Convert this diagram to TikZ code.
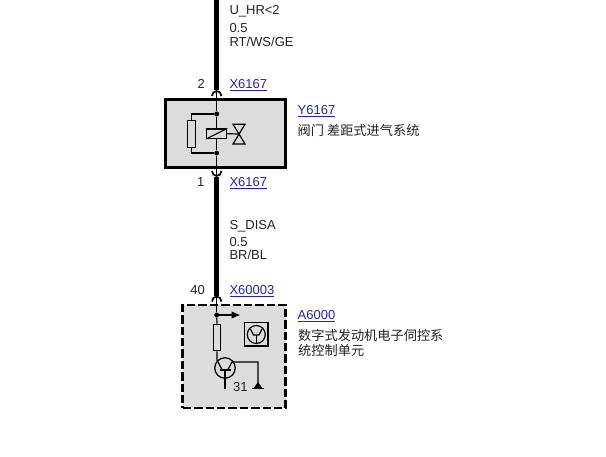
\documentclass[tikz,border=0pt]{standalone}
\usepackage{fontspec}
\setmainfont{Liberation Sans}
\newfontfamily\cjk{Noto Sans CJK SC}
\usetikzlibrary{arrows.meta}
\usetikzlibrary{positioning}
\definecolor{boxgray}{HTML}{DCDCDC}
\definecolor{linkblue}{HTML}{2222BB}
\definecolor{txtgray}{HTML}{222222}
\tikzset{
  lbl/.style={inner sep=0pt,anchor=base west,text=txtgray,font=\fontsize{13}{15}\selectfont},
  pin/.style={inner sep=0pt,anchor=base east,text=txtgray,font=\fontsize{13}{15}\selectfont},
  lnk/.style={inner sep=0pt,anchor=base west,text=linkblue,font=\fontsize{13}{15}\selectfont},
  cn/.style={inner sep=0pt,anchor=base west,text=txtgray,font=\cjk\fontsize{13.2}{15}\selectfont},
  harness/.style={line width=4.5pt,black},
  thinw/.style={line width=1.2pt,black},
  contact/.style={line width=1.7pt,black},
  part/.style={draw=black,line width=1.2pt,inner sep=0pt},
  junction/.style={fill=black,circle,inner sep=0pt,minimum size=5pt}
}
\begin{document}
\begin{tikzpicture}[x=1pt,y=-1pt]
\useasboundingbox (0,0) rectangle (606,457);

%%% Y6167

\node[draw=black,line width=2.4pt,fill=boxgray,minimum width=120pt,minimum height=68pt,inner sep=0pt] (valvebox) at (225.5,133.5) {};

\coordinate (topend) at (216.7,0);
\coordinate (wiretop) at (216.7,90);
\coordinate (wirebot) at (216.7,177);
\coordinate (wirelow) at (216.7,296);
\draw[harness] (topend) -- (wiretop);
\draw[harness] (wirebot) -- (wirelow);

\node[junction] (dota) at (216.7,114) {};
\node[junction] (dotb) at (216.7,153) {};
\coordinate (pintop) at (216.7,90);
\coordinate (pinbot) at (216.7,177);

% Kontakte
\draw[contact] (212,96) arc (180:360:4.7 and 5);
\draw[contact] (212,171) arc (180:0:4.7 and 5);
\draw[thinw] (pintop) -- (dota) -- (dotb) -- (pinbot);

\node[part,minimum width=7.4pt,minimum height=26.6pt] (resa) at (191.4,134) {};
\draw[thinw] (dota) -| (resa.north);
\draw[thinw] (dotb) -| (resa.south);

\node[part,fill=boxgray,minimum width=20pt,minimum height=9.4pt] (coil) at (216.7,133.7) {};
\draw[thinw] (coil.south west) -- (coil.north east);
\coordinate (vmid) at (239,134);
\draw[thinw] (coil.east) -- (vmid);
\draw[thinw] (vmid) -- (233,124.3) -- (245,124.3) -- (233,144) -- (245,144) -- cycle;

\node[lbl] (wtop) at (229.3,15) {U\_HR<2};
\node[lbl] (wtopb) at (229.3,32.5) {0.5};
\node[lbl] (wtopc) at (229.3,46.5) {RT/WS/GE};
\node[pin] (pintwo) at (205,89) {2};
\node[lnk] (lnka) at (229.3,89) {\underline{X6167}};
\node[pin] (pinone) at (204.5,187) {1};
\node[lnk] (lnkb) at (229.3,187) {\underline{X6167}};
\node[lnk] (lnkc) at (297.5,114.5) {\underline{Y6167}};
\node[cn] (namea) at (297.5,135.5) {阀门 差距式进气系统};

%%% A6000

\node[draw=black,line width=2.8pt,dash pattern=on 8.4pt off 3pt,fill=boxgray,minimum width=103pt,minimum height=103pt,inner sep=0pt] (ecubox) at (234.3,356.5) {};
\draw[contact] (212,301.5) arc (180:360:4.7 and 5);

\node[junction] (dotc) at (216.7,315) {};
\coordinate (pinecu) at (216.7,296);
\coordinate (arrowend) at (240.5,315);
\draw[thinw] (pinecu) -- (dotc);
\draw[thinw,-{Latex[length=9pt,width=7.5pt]}] (dotc) -- (arrowend);

\node[part,minimum width=7.4pt,minimum height=26.4pt] (resb) at (217,337.5) {};
\draw[thinw] (dotc) -- (resb.north);

% Transistor
\node[part,circle,minimum size=20.5pt] (tr) at (225,368) {};
\draw[thinw] (resb.south) -- (217,360) -- (222,369.5);
\draw[line width=2pt] (219.5,370) -- (230.5,370);
\draw[thinw] (225,370) -- (225,389);
\coordinate (gnd) at (258,384);
\draw[thinw] (228,369.5) -- (232,362) -- (258,362) -- (gnd);
\fill (253.5,388.5) -- (258,382) -- (262.5,388.5) -- cycle;
\draw[thinw] (252,388.3) -- (264,388.3);
\node[lbl] (gndnr) at (233,391.5) {31};

% Symbol
\node[part,line width=1.5pt,minimum size=23.5pt] (icon) at (256.3,334.5) {};
\node[part,circle,minimum size=18pt] (iconc) at (icon) {};
\draw[thinw] (250.5,329) -- (253.5,335) -- (259,335) -- (262,329);
\draw[thinw] (256.3,335) -- (256.3,343);

\node[pin] (pinforty) at (205,294.5) {40};
\node[lnk] (lnkd) at (229.3,294.5) {\underline{X60003}};
\node[lnk] (lnke) at (297.5,319.5) {\underline{A6000}};
\node[cn] (nameb) at (298,340.5) {数字式发动机电子伺控系};
\node[cn] (namec) at (298,355.5) {统控制单元};
\node[lbl] (wlow) at (229.3,229.5) {S\_DISA};
\node[lbl] (wlowb) at (229.3,246.5) {0.5};
\node[lbl] (wlowc) at (229.3,259.5) {BR/BL};

\end{tikzpicture}
\end{document}
